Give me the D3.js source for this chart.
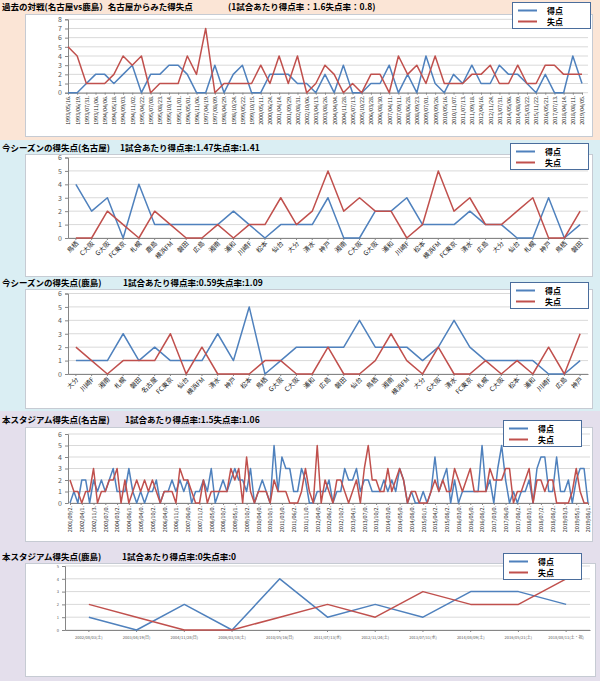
<!DOCTYPE html>
<html>
<head>
<meta charset="utf-8">
<script src="https://cdn.jsdelivr.net/npm/d3@7/dist/d3.min.js"></script>
<style>
  body { margin: 0; background: #fff; }
  text { font-family: "Noto Sans CJK JP", "Noto Sans", sans-serif; }
</style>
</head>
<body>
<script>
// ---- data ----
var dates1 = ["1993/05/16","1993/06/19","1993/07/31","1993/11/06","1994/04/06","1994/05/18","1994/09/03","1994/11/02",
  "1995/04/22","1995/07/08","1995/08/23","1995/10/14","1995/11/01","1996/05/01","1996/11/06","1997/04/19","1997/08/09",
  "1998/04/29","1998/10/24","1999/05/22","1999/10/15","2000/05/11","2000/06/24","2001/04/14","2001/09/29","2002/08/31",
  "2002/10/06","2003/04/13","2003/08/26","2004/04/04","2004/11/28","2005/07/13","2005/10/22","2006/03/28","2006/08/30",
  "2007/04/11","2007/09/11","2008/06/28","2008/09/23","2009/07/01","2009/09/26","2010/05/16","2010/11/07","2011/07/13",
  "2011/09/18","2012/04/16","2012/11/24","2013/07/31","2014/05/06","2014/08/09","2015/03/22","2015/11/22","2016/05/21",
  "2017/07/13","2018/04/14","2018/08/11","2019/04/05"];
var goals1 = [0,0,1,2,2,1,2,3,0,2,2,3,3,2,0,0,3,0,2,3,0,0,2,2,2,1,
  1,0,2,0,3,0,0,1,1,3,0,2,0,4,1,0,2,1,3,1,1,3,2,2,1,0,2,0,0,4,1];
var conceded1 = [5,4,1,1,1,2,4,3,4,0,1,1,1,4,2,7,0,1,1,1,1,3,1,4,1,4,
  0,1,3,2,0,1,0,2,2,0,4,2,3,1,4,1,1,1,2,2,3,1,1,3,1,1,3,3,2,2,2];

var opponents2 = ["鳥栖","C大阪","G大阪","FC東京","札幌","鹿島","横浜FM","磐田","広島","湘南","浦和","川崎F","松本","仙台","大分",
  "清水","神戸","湘南","C大阪","G大阪","浦和","川崎F","松本","横浜FM","FC東京","清水","広島","大分","仙台","札幌","神戸","鳥栖","磐田"];
var goals2 = [4,2,3,0,4,1,1,1,1,1,2,1,0,1,1,1,3,0,0,2,2,3,1,1,1,2,1,1,0,0,3,0,1];
var conceded2 = [0,0,2,1,0,2,1,0,0,1,0,1,1,3,1,2,5,2,3,2,2,0,1,5,2,3,1,1,2,3,0,0,2];

var opponents3 = ["大分","川崎F","湘南","札幌","磐田","名古屋","FC東京","仙台","横浜FM","清水","神戸","松本","鳥栖","G大阪","C大阪",
  "浦和","広島","磐田","仙台","鳥栖","湘南","横浜FM","大分","G大阪","清水","FC東京","札幌","C大阪","松本","浦和","川崎F","広島","神戸"];
var goals3 = [1,1,1,3,1,2,1,1,1,3,1,5,0,1,2,2,2,2,4,2,2,2,1,2,4,2,1,1,1,1,0,0,1];
var conceded3 = [2,1,0,1,1,1,3,0,2,0,0,0,1,1,0,0,2,0,0,1,3,1,0,2,0,0,1,0,1,0,2,0,3];

var dates4 = ["2001/09/2.","2002/04/1.","2002/11/3.","2003/07/0.","2004/03/2.","2004/06/1.","2005/04/0.","2005/10/2.",
  "2006/04/0.","2006/11/1.","2007/06/0.","2007/11/2.","2008/05/0.","2008/10/2.","2009/05/1.","2009/10/2.","2010/04/0.",
  "2010/10/1.","2011/03/0.","2011/06/2.","2011/11/0.","2012/04/0.","2012/06/2.","2012/10/2.","2013/04/1.","2013/07/0.",
  "2013/10/2.","2014/03/0.","2014/05/0.","2014/08/0.","2015/01/1.","2015/04/2.","2015/08/2.","2016/03/0.","2016/05/0.",
  "2016/08/2.","2017/03/0.","2017/06/0.","2017/08/2.","2018/03/1.","2018/07/2.","2018/08/2.","2019/03/3.","2019/05/1.",
  "2019/08/1."];
var goals4 = [0,1,0,2,2,0,2,1,2,1,2,3,1,1,1,3,1,0,1,0,1,1,2,0,1,1,2,1,2,1,2,0,1,
  1,2,1,3,0,1,2,1,2,3,2,2,1,3,0,1,2,1,0,5,1,4,3,3,1,1,3,2,0,0,1,1,1,2,0,1,1,3,2,2,3,1,2,2,1,1,1,
  2,1,2,1,3,2,0,1,0,0,1,0,1,4,1,2,3,0,2,0,1,1,1,1,1,5,1,2,0,3,5,2,0,1,0,1,1,2,0,3,4,4,1,1,4,1,1,2,0,2,3,3,0];
var conceded4 = [2,1,1,0,1,1,3,0,1,1,2,2,3,0,2,0,1,2,1,2,1,2,1,0,1,1,1,0,3,2,2,1,0,
  0,2,0,1,1,1,1,1,3,2,3,0,4,1,0,1,1,1,0,2,1,1,1,0,0,0,1,3,1,0,5,0,2,1,0,2,2,1,0,1,2,0,3,5,2,2,1,
  1,3,1,2,3,2,0,1,1,0,0,0,1,2,1,2,1,1,3,2,1,2,3,1,1,1,1,3,2,2,2,3,3,0,1,1,2,3,0,2,2,1,2,2,0,0,0,0,1,3,1,0,0];

var dates5 = ["2002/08/03(土)","2003/04/19(日)","2004/11/28(日)","2006/03/18(土)","2010/05/16(日)","2011/07/13(水)",
  "2012/11/24(土)","2013/07/31(水)","2014/08/09(土)","2016/05/21(土)","2018/08/11(土・祝)"];
var goals5 = [1,0,2,0,4,1,2,1,3,3,2];
var conceded5 = [2,1,0,0,1,2,1,3,2,2,4];

var seriesNames = ["得点", "失点"];
var seriesColors = ["#4f81bd", "#c0504d"];

var svg = d3.select("body")
  .append("svg")
  .attr("width", 600)
  .attr("height", 681);

// one panel = coloured band, title, white chart box, lines, legend
function drawPanel(p) {
  svg.append("rect")
    .attr("x", 0).attr("y", p.top)
    .attr("width", 600).attr("height", p.bottom - p.top)
    .attr("fill", p.bg);

  svg.append("rect")
    .attr("x", 25.5).attr("y", p.box[0] + 0.5)
    .attr("width", p.box[2] - 25).attr("height", p.box[1] - p.box[0])
    .attr("fill", "#fff")
    .attr("stroke", "#c6cbd3");

  svg.append("text")
    .attr("x", 2).attr("y", p.titleY)
    .attr("font-size", 8.5).attr("font-weight", "bold")
    .text(p.title);
  svg.append("text")
    .attr("x", p.subX).attr("y", p.titleY)
    .attr("font-size", 8.5).attr("font-weight", "bold")
    .text(p.sub);

  var y = d3.scaleLinear().domain([0, p.yMax]).range(p.yRange);
  var g = svg.append("g");

  // gridlines
  g.selectAll(".grid")
    .data(d3.range(0, p.yMax + 1))
    .enter()
    .append("line")
    .attr("x1", p.plotX[0]).attr("x2", p.plotX[1])
    .attr("y1", d => y(d)).attr("y2", d => y(d))
    .attr("stroke", "#d9d9d9").attr("stroke-width", 1);

  // y axis
  var yAxis = g.append("g")
    .attr("transform", `translate(${p.plotX[0]},0)`)
    .call(d3.axisLeft(y).ticks(p.yMax).tickSize(3).tickPadding(3).tickFormat(d3.format("d")));
  yAxis.selectAll("text").attr("font-size", p.yFont).attr("fill", "#595959");
  yAxis.selectAll("line, path").attr("stroke", "#868686");

  // x axis
  var xAxis = g.append("g")
    .attr("transform", `translate(0,${y(0)})`)
    .call(d3.axisBottom(p.x).tickValues(p.tickValues).tickFormat(p.tickFormat).tickSize(2).tickSizeOuter(0));
  xAxis.selectAll("line, path").attr("stroke", "#868686");
  var xt = xAxis.selectAll("text").attr("font-size", p.xFont).attr("fill", "#222");
  if (p.rotate === -90) {
    xt.attr("transform", "rotate(-90)").attr("x", -3).attr("y", 0).attr("dy", "0.35em").style("text-anchor", "end");
  } else if (p.rotate === -45) {
    xt.attr("x", 0).attr("y", 0).attr("dy", 0)
      .attr("transform", "translate(3,6) rotate(-45)").style("text-anchor", "end");
  } else {
    xt.attr("y", 6).attr("fill", "#595959");
  }

  // lines
  var line = d3.line()
    .x((d, i) => p.xPos(i))
    .y(d => y(d));
  [p.goals, p.conceded].forEach(function(vals, k) {
    g.append("path")
      .datum(vals)
      .attr("fill", "none")
      .attr("stroke", seriesColors[k])
      .attr("stroke-width", 1.5)
      .attr("stroke-linejoin", "round")
      .attr("d", line);
  });

  // legend
  var lg = svg.append("g").attr("transform", `translate(${p.legend[0]},${p.legend[1]})`);
  lg.append("rect")
    .attr("x", 0.5).attr("y", 0.5).attr("width", 78).attr("height", 26)
    .attr("fill", "#fff").attr("stroke", "#4a6d9c").attr("stroke-width", 1);
  seriesNames.forEach(function(name, k) {
    lg.append("line")
      .attr("x1", 6).attr("x2", 25).attr("y1", 8.5 + k * 11).attr("y2", 8.5 + k * 11)
      .attr("stroke", seriesColors[k]).attr("stroke-width", 2);
    lg.append("text")
      .attr("x", 35).attr("y", 11.5 + k * 11)
      .attr("font-size", 8).attr("font-weight", "bold")
      .text(name);
  });
}

// panel 1
var x1 = d3.scalePoint().domain(d3.range(goals1.length)).range([68, 582]);
drawPanel({
  top: 0, bottom: 140, bg: "#fbe5d6", box: [14, 136, 592], titleY: 10,
  title: "過去の対戦(名古屋vs鹿島）名古屋からみた得失点", sub: "(1試合あたり得点率：1.6失点率：0.8)", subX: 228,
  yMax: 8, yRange: [92.7, 19.3], plotX: [68, 588], yFont: 7,
  x: x1, xPos: i => x1(i), tickValues: d3.range(goals1.length), tickFormat: i => dates1[i] + ".",
  xFont: 5.3, rotate: -90, goals: goals1, conceded: conceded1, legend: [512, 2]
});

// panel 2
var x2 = d3.scaleBand().domain(d3.range(goals2.length)).range([68, 588]);
drawPanel({
  top: 140, bottom: 279, bg: "#daeef3", box: [154, 276, 592], titleY: 150.5,
  title: "今シーズンの得失点(名古屋)", sub: "1試合あたり得点率:1.47失点率:1.41", subX: 120,
  yMax: 6, yRange: [238, 157.5], plotX: [68, 588], yFont: 7,
  x: x2, xPos: i => x2(i) + x2.bandwidth() / 2, tickValues: d3.range(goals2.length), tickFormat: i => opponents2[i],
  xFont: 6.5, rotate: -45, goals: goals2, conceded: conceded2, legend: [510, 143]
});

// panel 3
var x3 = d3.scaleBand().domain(d3.range(goals3.length)).range([68, 588]);
drawPanel({
  top: 279, bottom: 411, bg: "#daeef3", box: [289, 408, 592], titleY: 285.5,
  title: "今シーズンの得失点(鹿島)", sub: "1試合あたり得点率:0.59失点率:1.09", subX: 123,
  yMax: 6, yRange: [374, 293.5], plotX: [68, 588], yFont: 7,
  x: x3, xPos: i => x3(i) + x3.bandwidth() / 2, tickValues: d3.range(goals3.length), tickFormat: i => opponents3[i],
  xFont: 6.5, rotate: -45, goals: goals3, conceded: conceded3, legend: [510, 282]
});

// panel 4
var x4 = d3.scalePoint().domain(d3.range(goals4.length)).range([70, 588]);
drawPanel({
  top: 411, bottom: 544, bg: "#e4dfec", box: [427, 541, 592], titleY: 423,
  title: "本スタジアム得失点(名古屋)", sub: "1試合あたり得点率:1.5失点率:1.06", subX: 125,
  yMax: 6, yRange: [503, 434], plotX: [68, 590], yFont: 7,
  x: x4, xPos: i => x4(i), tickValues: d3.range(0, goals4.length, 3), tickFormat: i => dates4[i / 3],
  xFont: 5.3, rotate: -90, goals: goals4, conceded: conceded4, legend: [503, 420]
});

// panel 5
var x5 = d3.scaleBand().domain(d3.range(goals5.length)).range([65, 590]);
drawPanel({
  top: 544, bottom: 681, bg: "#e4dfec", box: [563, 676, 595], titleY: 560,
  title: "本スタジアム得失点(鹿島)", sub: "1試合あたり得点率:0失点率:0", subX: 122,
  yMax: 5, yRange: [630, 566], plotX: [65, 590], yFont: 4,
  x: x5, xPos: i => x5(i) + x5.bandwidth() / 2, tickValues: d3.range(goals5.length), tickFormat: i => dates5[i],
  xFont: 4, rotate: 0, goals: goals5, conceded: conceded5, legend: [503, 553]
});
</script>
</body>
</html>
